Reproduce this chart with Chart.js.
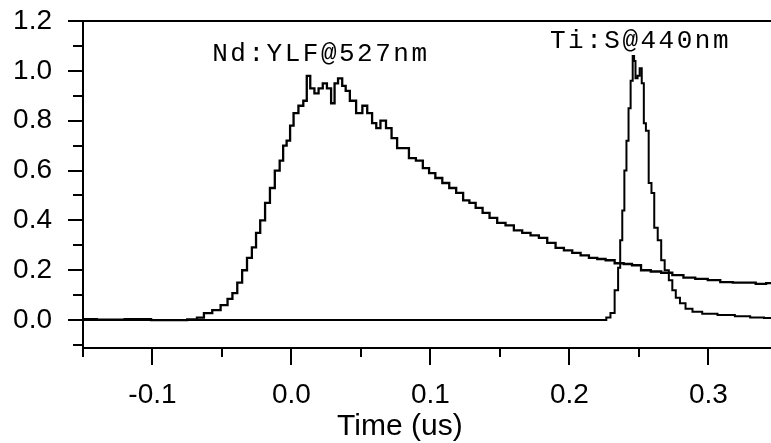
<!DOCTYPE html>
<html>
<head>
<meta charset="utf-8">
<script src="https://cdn.jsdelivr.net/npm/chart.js@4"></script>
<style>
  html, body { margin: 0; padding: 0; background: #fff; }
</style>
</head>
<body>
<canvas id="graphCanvas" width="771" height="443"></canvas>
<script>
// Nd:YLF@527nm trace (time in us, normalised signal)
const ndTime = [
  -0.15, -0.13, -0.11, -0.092, -0.08, -0.07, -0.066, -0.060, -0.054, -0.048,
  -0.044, -0.041, -0.037, -0.034, -0.030, -0.027, -0.024, -0.021, -0.017, -0.014,
  -0.010, -0.007, -0.005, -0.002, 0.0, 0.003, 0.007, 0.010, 0.012, 0.015,
  0.018, 0.021, 0.024, 0.027, 0.030, 0.032, 0.035, 0.038, 0.040, 0.044,
  0.049, 0.053, 0.056, 0.060, 0.062, 0.066, 0.070, 0.074, 0.078, 0.082,
  0.087, 0.092, 0.097, 0.101, 0.106, 0.111, 0.116, 0.121, 0.126, 0.130,
  0.135, 0.140, 0.145, 0.151, 0.157, 0.163, 0.169, 0.175, 0.181, 0.187,
  0.193, 0.199, 0.205, 0.211, 0.217, 0.223, 0.229, 0.236, 0.242, 0.248,
  0.255, 0.262, 0.270, 0.278, 0.286, 0.295, 0.304, 0.313, 0.322, 0.330,
  0.338, 0.345
];
const ndSignal = [
  0.004, 0.002, 0.004, 0.0, 0.0, 0.003, 0.01, 0.028, 0.04, 0.06,
  0.085, 0.108, 0.15, 0.2, 0.25, 0.292, 0.35, 0.4, 0.47, 0.53,
  0.60, 0.64, 0.70, 0.72, 0.78, 0.83, 0.86, 0.88, 0.98, 0.93,
  0.91, 0.93, 0.95, 0.93, 0.87, 0.95, 0.97, 0.94, 0.92, 0.88,
  0.83, 0.86, 0.83, 0.79, 0.77, 0.80, 0.77, 0.73, 0.69, 0.69,
  0.65, 0.64, 0.61, 0.59, 0.57, 0.55, 0.53, 0.51, 0.48, 0.47,
  0.45, 0.43, 0.41, 0.39, 0.38, 0.36, 0.35, 0.34, 0.33, 0.31,
  0.29, 0.28, 0.27, 0.26, 0.25, 0.245, 0.24, 0.228, 0.225, 0.22,
  0.20, 0.195, 0.19, 0.18, 0.17, 0.165, 0.16, 0.152, 0.15, 0.15,
  0.145, 0.148
];

// Ti:S@440nm trace
const tiTime = [
  -0.15, -0.10, -0.05, 0.0, 0.05, 0.10, 0.15, 0.20,
  0.225, 0.228, 0.231, 0.234, 0.236, 0.237, 0.239, 0.240, 0.242, 0.243,
  0.245, 0.246, 0.247, 0.248, 0.250, 0.251, 0.253, 0.254, 0.256, 0.258,
  0.260, 0.262, 0.265, 0.267, 0.270, 0.273, 0.275, 0.278, 0.281, 0.286,
  0.291, 0.300, 0.313, 0.325, 0.335, 0.345
];
const tiSignal = [
  0, 0, 0, 0, 0, 0, 0, 0,
  0, 0.01, 0.028, 0.12, 0.21, 0.32, 0.44, 0.60, 0.72, 0.85,
  0.96, 1.06, 1.04, 0.97, 0.98, 1.01, 0.95, 0.79, 0.76, 0.55,
  0.51, 0.37, 0.32, 0.24, 0.20, 0.16, 0.12, 0.09, 0.068, 0.045,
  0.033, 0.025, 0.02, 0.015, 0.01, 0.008
];

// tick values
const xMajorTicks = [-0.1, 0.0, 0.1, 0.2, 0.3];
const xMinorTicks = [-0.15, -0.05, 0.05, 0.15, 0.25];
const yMajorTicks = [0.0, 0.2, 0.4, 0.6, 0.8, 1.0, 1.2];
const yMinorTicks = [-0.1, 0.1, 0.3, 0.5, 0.7, 0.9, 1.1];

// trace labels
const noteText = ["Nd:YLF@527nm", "Ti:S@440nm"];
const noteTime = [-0.057, 0.186];
const noteLevel = [1.04, 1.092];
const axisTitle = "Time (us)";

function toPoints(xs, ys) {
  return xs.map((x, i) => ({ x: x, y: ys[i] }));
}

function isIn(list, v) {
  return list.some(t => Math.abs(t - v) < 1e-9);
}

// tick marks of two lengths, top frame line, trace labels and axis title
const extras = {
  id: "extras",
  afterDraw(chart) {
    const ctx = chart.ctx;
    const xs = chart.scales.x;
    const ys = chart.scales.y;
    const area = chart.chartArea;
    ctx.save();
    ctx.strokeStyle = "#000";
    ctx.lineWidth = 2;
    ctx.beginPath();
    xMajorTicks.concat(xMinorTicks).forEach(v => {
      const px = Math.round(xs.getPixelForValue(v));
      const len = isIn(xMajorTicks, v) ? 17 : 9;
      ctx.moveTo(px, area.bottom);
      ctx.lineTo(px, area.bottom + len);
    });
    yMajorTicks.concat(yMinorTicks).forEach(v => {
      const py = Math.round(ys.getPixelForValue(v));
      const len = isIn(yMajorTicks, v) ? 15 : 10;
      ctx.moveTo(area.left, py);
      ctx.lineTo(area.left - len, py);
    });
    ctx.moveTo(area.left - 15, area.top);
    ctx.lineTo(area.right, area.top);
    ctx.stroke();

    ctx.fillStyle = "#000";
    ctx.textAlign = "left";
    ctx.textBaseline = "alphabetic";
    ctx.font = "26px 'Liberation Mono'";
    ctx.letterSpacing = "2.5px";
    for (let i = 0; i < noteText.length; i++) {
      ctx.fillText(noteText[i], xs.getPixelForValue(noteTime[i]), ys.getPixelForValue(noteLevel[i]));
    }
    ctx.letterSpacing = "0px";
    ctx.font = "30px 'Liberation Sans'";
    ctx.textAlign = "center";
    ctx.fillText(axisTitle, xs.getPixelForValue(0.078), 435);
    ctx.restore();
  }
};

const ctx = document.getElementById("graphCanvas").getContext("2d");
new Chart(ctx, {
  type: "line",
  data: {
    datasets: [
      {
        label: "Nd:YLF@527nm",
        data: toPoints(ndTime, ndSignal),
        borderColor: "#000",
        borderWidth: 2.3,
        pointRadius: 0,
        stepped: "middle",
        fill: false
      },
      {
        label: "Ti:S@440nm",
        data: toPoints(tiTime, tiSignal),
        borderColor: "#000",
        borderWidth: 2,
        pointRadius: 0,
        stepped: "middle",
        fill: false
      }
    ]
  },
  options: {
    responsive: false,
    animation: false,
    layout: { padding: { top: 21, right: 0, left: 0, bottom: 0 } },
    plugins: {
      legend: { display: false },
      tooltip: { enabled: false }
    },
    scales: {
      x: {
        type: "linear",
        min: -0.15,
        max: 0.345,
        afterBuildTicks: s => { s.ticks = xMajorTicks.concat(xMinorTicks).sort((a, b) => a - b).map(v => ({ value: v })); },
        afterFit: s => { s.height = 95; s.paddingLeft = 0; s.paddingRight = 0; },
        grid: { drawOnChartArea: false, drawTicks: false },
        border: { display: true, color: "#000", width: 2 },
        ticks: {
          autoSkip: false,
          maxRotation: 0,
          padding: 30,
          color: "#000",
          font: { family: "'Liberation Sans'", size: 28 },
          callback: v => (isIn(xMajorTicks, v) ? v.toFixed(1) : "")
        }
      },
      y: {
        min: -0.112,
        max: 1.2,
        afterBuildTicks: s => { s.ticks = yMajorTicks.concat(yMinorTicks).sort((a, b) => a - b).map(v => ({ value: v })); },
        afterFit: s => { s.width = 83; s.paddingTop = 0; s.paddingBottom = 0; },
        grid: { drawOnChartArea: false, drawTicks: false },
        border: { display: true, color: "#000", width: 2 },
        ticks: {
          autoSkip: false,
          padding: 31,
          color: "#000",
          font: { family: "'Liberation Sans'", size: 28 },
          callback: v => (isIn(yMajorTicks, v) ? v.toFixed(1) : "")
        }
      }
    }
  },
  plugins: [extras]
});
</script>
</body>
</html>
